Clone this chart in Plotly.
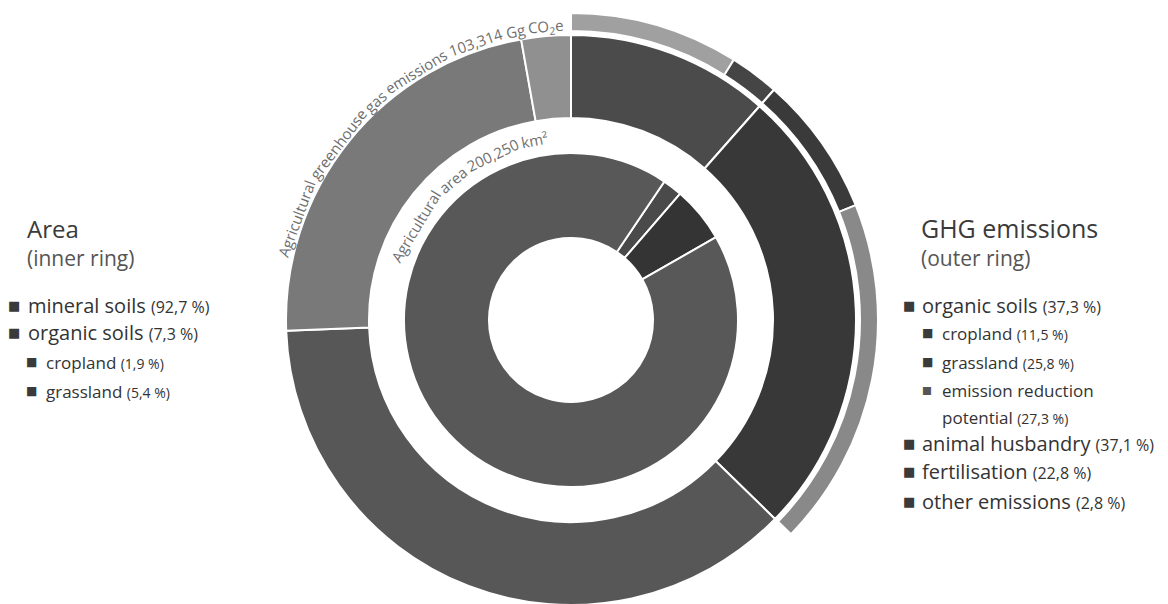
import math
import plotly.graph_objects as go

# ---------------- data ----------------
inner_labels = ["Area: organic soils, cropland", "Area: organic soils, grassland", "Area: mineral soils"]
inner_values = [1.9, 5.4, 92.7]

outer_labels = ["GHG: organic soils, cropland", "GHG: organic soils, grassland",
                "GHG: animal husbandry", "GHG: fertilisation", "GHG: other emissions"]
outer_values = [11.5, 25.8, 37.1, 22.8, 2.8]

potential_labels = ["cropland: emission reduction potential", "cropland: remaining",
                    "grassland: remaining", "grassland: emission reduction potential",
                    "not organic soils"]
potential_values = [8.9, 2.6, 7.4, 18.4, 62.7]

area_entries = [("mineral soils", "92,7 %", 0), ("organic soils", "7,3 %", 0),
                ("cropland", "1,9 %", 1), ("grassland", "5,4 %", 1)]
ghg_entries = [("organic soils", "37,3 %", 0), ("cropland", "11,5 %", 1),
               ("grassland", "25,8 %", 1), ("emission reduction", "", 1),
               ("potential", "27,3 %", 2), ("animal husbandry", "37,1 %", 0),
               ("fertilisation", "22,8 %", 0), ("other emissions", "2,8 %", 0)]

outer_title_words = ["Agricultural", "greenhouse", "gas", "emissions", "103,314", "Gg", "CO<sub>2</sub>e"]
inner_title_words = ["Agricultural", "area", "200,250", "km²"]

# ---------------- styles / layout ----------------
W, H = 1168, 630
CX, CY = 571, 320
FONT = "Open Sans"

inner_colors = ["#4a4a4a", "#343434", "#585858"]
outer_colors = ["#4b4b4b", "#383838", "#575757", "#797979", "#909090"]
potential_colors = ["#a0a0a0", "#454545", "#3a3a3a", "#898989", "rgba(255,255,255,0)"]

# approximate Open Sans advance widths (em) for laying the ring titles along the arcs
EM = {" ": .26, "A": .633, "C": .631, "G": .729, "O": .781, "a": .556, "c": .479,
      "d": .613, "e": .561, "g": .548, "h": .614, "i": .253, "k": .525, "l": .253,
      "m": .930, "n": .614, "o": .604, "r": .408, "s": .477, "t": .353, "u": .614,
      ",": .25, "²": .37}
for dgt in "0123456789":
    EM[dgt] = .572


def word_em(w):
    w = w.replace("<sub>2</sub>", "\u2082")
    return sum(EM.get(c, .572 * .7 if c == "\u2082" else .55) for c in w)


def dom(R):
    return dict(x=[(CX - R) / W, (CX + R) / W], y=[1 - (CY + R) / H, 1 - (CY - R) / H])


def pie(labels, values, colors, r_out, r_in, rotation):
    return go.Pie(labels=labels, values=values, sort=False, direction="clockwise",
                  rotation=rotation, hole=r_in / r_out, domain=dom(r_out),
                  textinfo="none", hoverinfo="label+percent", showlegend=False,
                  marker=dict(colors=colors, line=dict(color="white", width=2)))


fig = go.Figure()
fig.add_trace(pie(inner_labels, inner_values, inner_colors, 167, 82, 34))
fig.add_trace(pie(outer_labels, outer_values, outer_colors, 285, 202, 0))
fig.add_trace(pie(potential_labels, potential_values, potential_colors, 307, 289, 0))

ann = []


def px(x, y):
    return x / W, 1 - y / H


def text(x, y, s, size, color, anchor="left", angle=0, family=FONT):
    xx, yy = px(x, y)
    ann.append(dict(x=xx, y=yy, xref="paper", yref="paper", text=s, showarrow=False,
                    xanchor=anchor, yanchor="middle", textangle=angle,
                    font=dict(family=family, size=size, color=color)))


# headings
text(25, 228, "Area", 24, "#3a3a3a")
text(25, 258, "(inner ring)", 21, "#555555")
text(919, 228, "GHG emissions", 25, "#3a3a3a")
text(919, 258, "(outer ring)", 21, "#555555")

# legend lists
SQ = "DejaVu Sans"
area_y = [305, 332, 362, 391]
for (name, pct, lvl), y in zip(area_entries, area_y):
    sq_x, tx, fs, ps, ss = (14, 26, 20, 16, 13) if lvl == 0 else (31, 44, 17, 14, 12)
    text(sq_x, y, "■", ss, "#3a3a3a", anchor="center", family=SQ)
    text(tx, y, f"{name} <span style='font-size:{ps}px'>({pct})</span>", fs, "#333333")

ghg_y = [305, 333, 362, 390, 417, 443, 471, 502]
for (name, pct, lvl), y in zip(ghg_entries, ghg_y):
    if lvl == 0:
        sq_x, tx, fs, ps, ss = 909, 920, 20, 16, 13
    else:
        sq_x, tx, fs, ps, ss = 927, 940, 17, 14, 12
    if lvl != 2:
        emis = name.startswith("emission")
        text(sq_x, y, "■", 10.5 if emis else ss, "#555555" if emis else "#3a3a3a",
             anchor="center", family=SQ)
    label = name if not pct else f"{name} <span style='font-size:{ps}px'>({pct})</span>"
    text(tx, y, label, fs, "#333333")

# curved ring titles, laid word by word along the arcs
for words, start, r, fs, col in [(outer_title_words, 282.5, 294, 15, "#6e6e6e"),
                                 (inner_title_words, 288.7, 184, 15, "#707070")]:
    pos = 0.0
    for w in words:
        wpx = word_em(w) * fs
        mid = start + math.degrees((pos + wpx / 2) / r)
        half = (wpx / 2) / r
        rr = r - r * (1 - math.cos(half)) / 2
        t = math.radians(mid)
        text(CX + rr * math.sin(t), CY - rr * math.cos(t), w, fs, col,
             anchor="center", angle=mid - 360)
        pos += wpx + EM[" "] * fs

fig.update_layout(width=W, height=H, margin=dict(l=0, r=0, t=0, b=0),
                  paper_bgcolor="white", plot_bgcolor="white", annotations=ann,
                  font=dict(family=FONT))

fig.write_html("out.html", config={"displayModeBar": False},
               post_script="document.documentElement.style.overflow='hidden';"
                           "document.body.style.overflow='hidden';")
